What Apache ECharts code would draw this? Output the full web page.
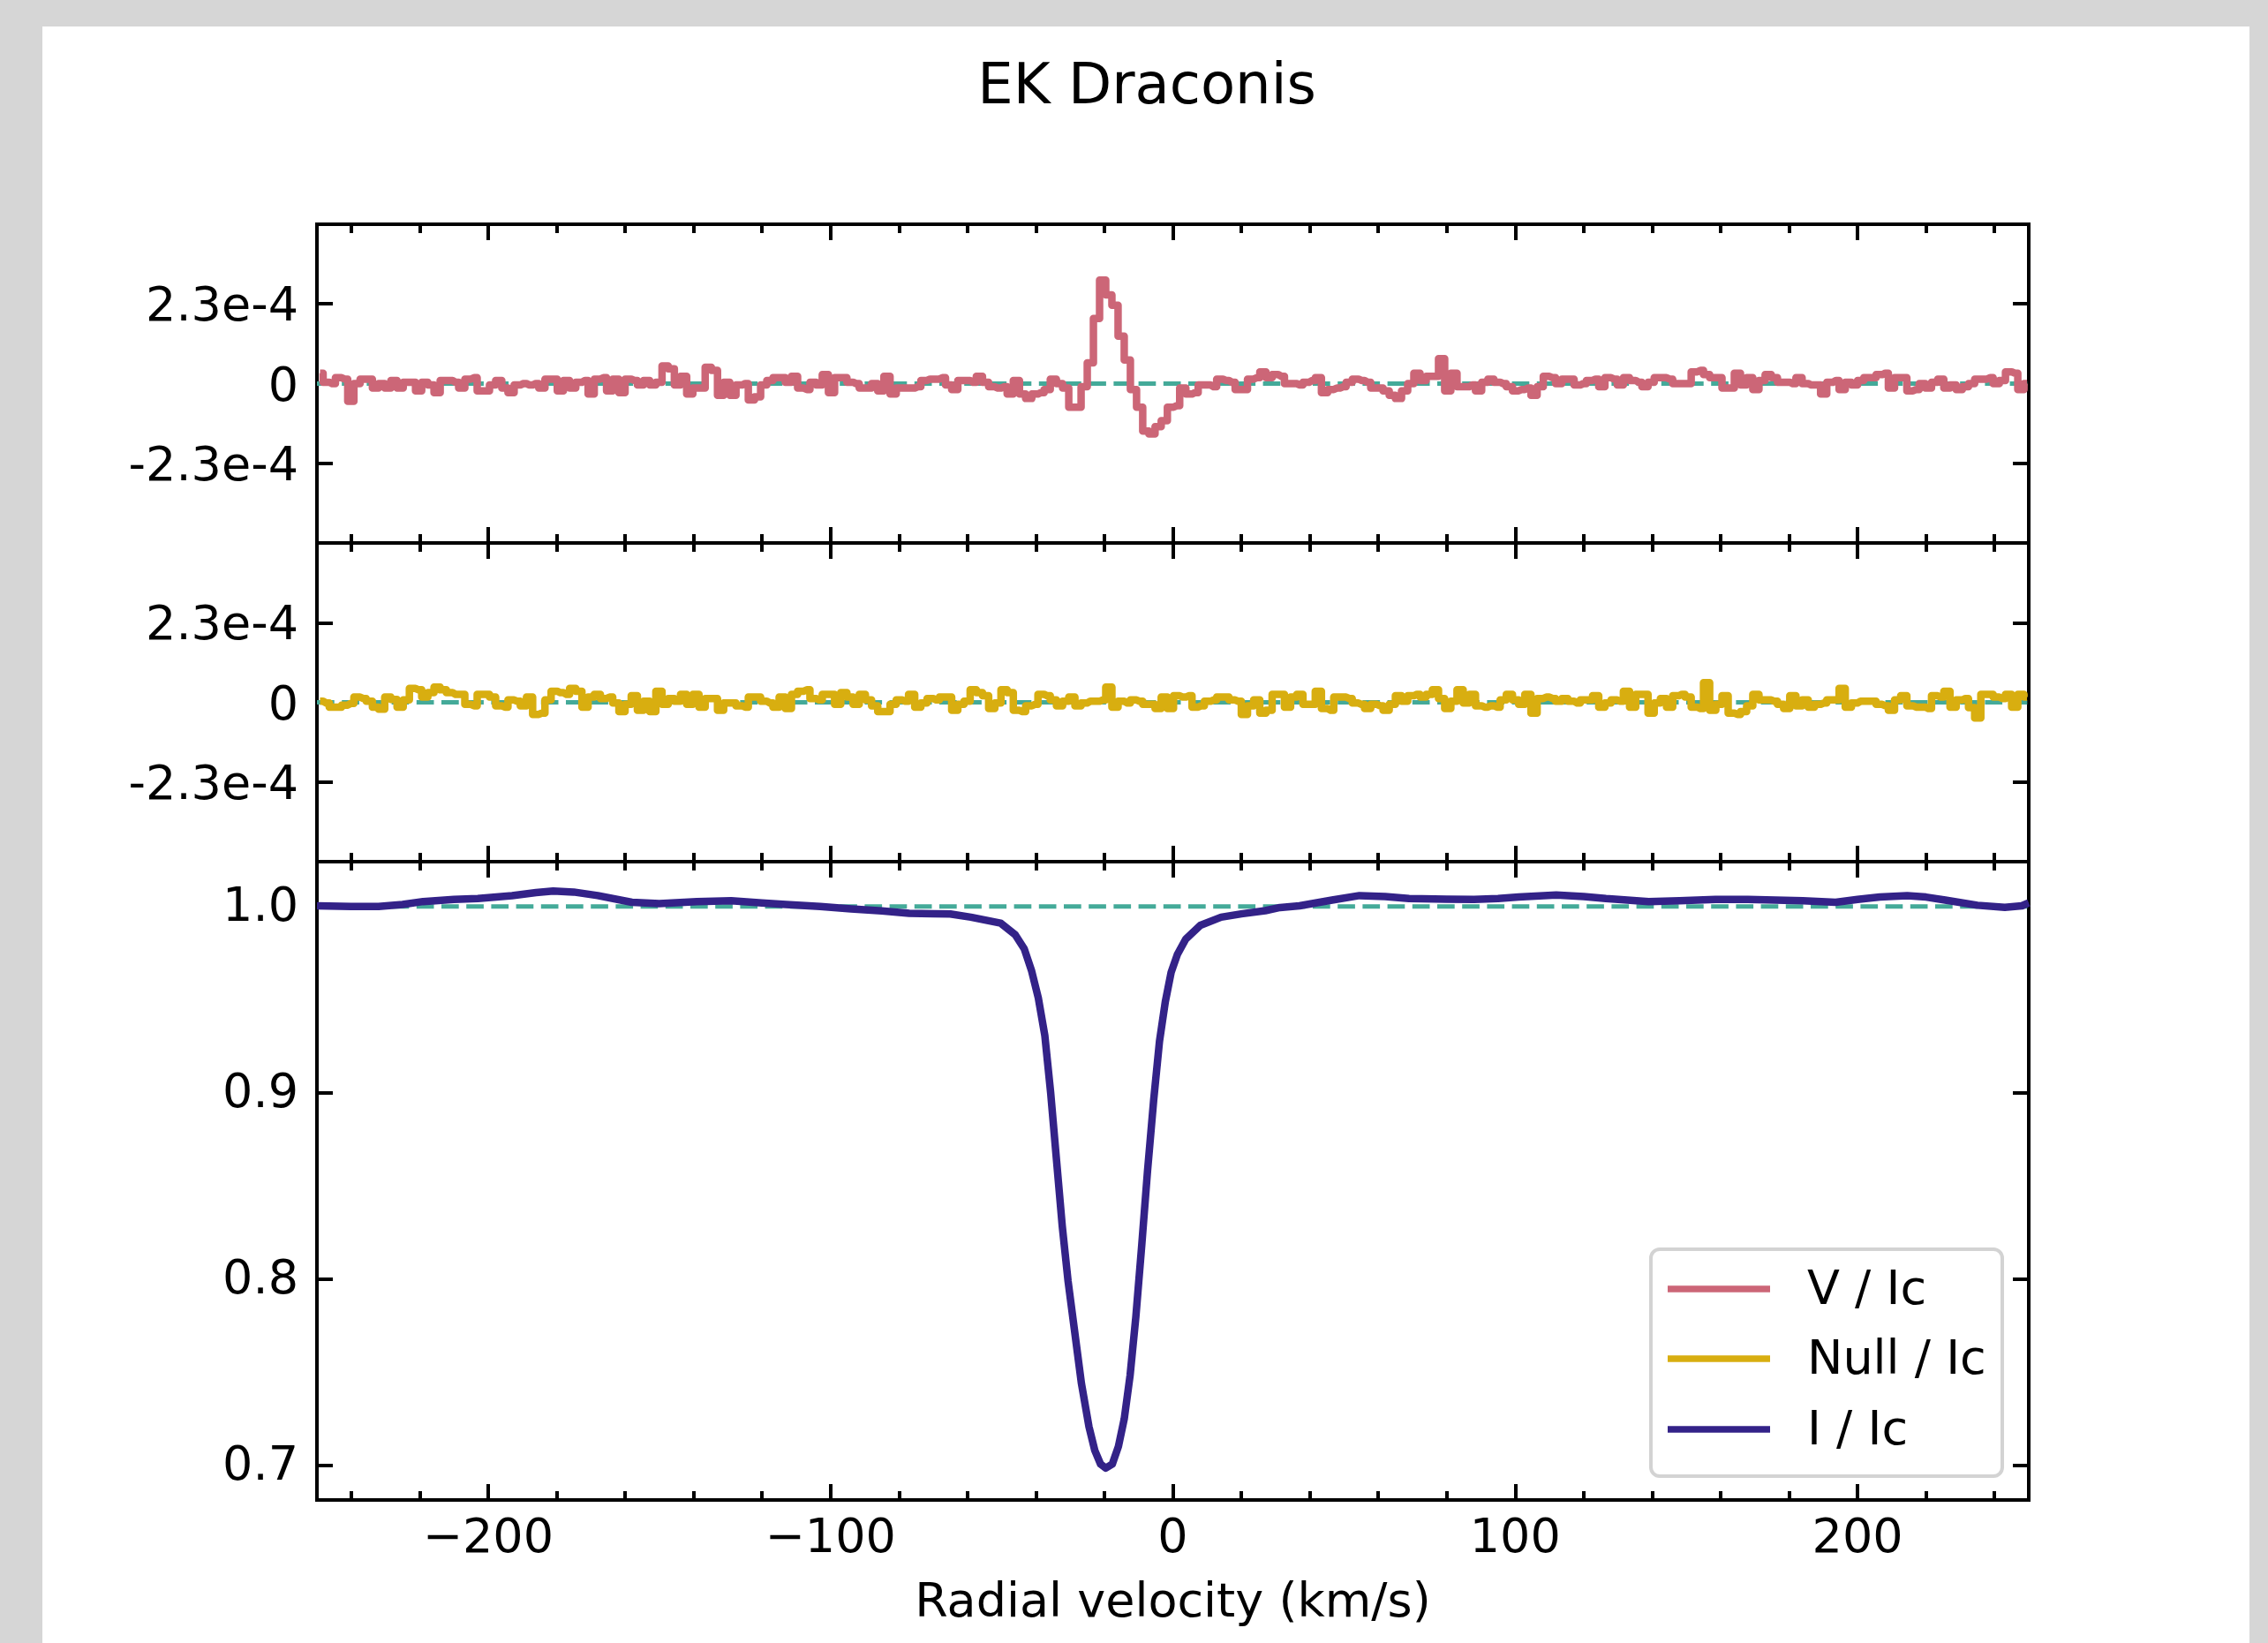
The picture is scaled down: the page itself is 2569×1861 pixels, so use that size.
<!DOCTYPE html>
<html><head><meta charset="utf-8">
<script src="https://cdn.jsdelivr.net/npm/echarts@6/dist/echarts.min.js"></script>
<style>
html,body{margin:0;padding:0;background:#d6d6d6;width:2569px;height:1861px;overflow:hidden}
#chart{position:absolute;left:48px;top:30px;width:2500px;height:1831px;background:#fff}
</style></head><body><div id="chart"></div>
<script>
const titleText = 'EK Draconis';
const xAxisTitle = 'Radial velocity (km/s)';
const seriesNames = ['V / Ic', 'Null / Ic', 'I / Ic'];
const seriesColors = ['#CC6677', '#D8AE10', '#332288'];
const refColor = '#44AA99';

// LSD velocity grid (bin centres)
const velStart = -249.1, velStep = 1.8;

// Stokes V / Ic in units of 1e-5
const stokesV_1e5 = [
 3.0, 0.4, 0, 1.7, 1.3, -5.1, 0, 1.3, 1.3, -1.3,
 0, -1.3, 0.9, -1.3, 0.4, 0.4, -2.1, 0.4, -0.4, -2.6,
 0.9, 0.9, 0.4, -1.3, 1.3, 1.7, -2.1, -2.1, -0.4, 0.9,
 -1.3, -2.6, -0.4, 0, -0.4, 0, -1.3, 1.3, 1.3, -2.1,
 0.9, -1.3, 0.4, 0.9, -3.0, 1.3, 1.7, -2.1, 1.3, -2.6,
 1.3, 0.9, -0.4, 0.9, -0.4, 0.4, 5.1, 4.3, -0.4, 2.1,
 -3.0, -1.3, -1.3, 4.7, 3.8, -3.4, 0.4, -3.4, -0.4, 0,
 -4.7, -3.8, -0.4, 0.9, 1.7, 1.7, 0.4, 2.1, -1.3, -1.7,
 0.4, -0.4, 2.6, -2.6, 1.7, 1.7, 0.4, 0, -1.3, -1.3,
 0, -2.1, 2.1, -3.0, -1.3, -1.3, -1.3, -0.9, 0.9, 1.3,
 1.3, 1.7, -0.4, -1.7, 0.9, 0.9, 0.4, 2.1, 0.4, -0.9,
 -1.3, -0.9, -3.0, 0.9, -3.0, -4.3, -3.0, -2.6, -1.7, 1.3,
 0, -1.3, -6.8, -6.8, -0.9, 6.0, 18.8, 29.9, 25.6, 22.6,
 13.7, 6.8, -1.7, -6.8, -13.7, -14.5, -12.4, -10.7, -6.8, -6.4,
 -1.3, -3.0, -2.6, -0.4, -0.4, -0.9, 1.3, 0.9, 0.4, -1.7,
 -1.7, 1.3, 1.7, 3.4, 1.7, 2.6, 2.1, 0, 0, -0.4,
 0.4, 0.9, 1.7, -2.6, -1.7, -1.3, -0.9, 0.4, 1.3, 0.9,
 0.4, -1.3, -1.3, -2.1, -3.4, -4.3, -2.1, 0, 3.0, 0.9,
 2.1, 2.1, 7.2, -2.1, 3.0, -0.9, -0.9, -0.4, -2.1, 0.4,
 1.3, 0.4, 0, -0.9, -2.1, -1.7, -1.3, -3.4, -0.9, 2.1,
 1.7, 0, 1.3, 1.3, -0.4, 0, 0.9, 1.3, -0.9, 1.7,
 1.3, -0.4, 1.7, 0.9, 0.4, -0.9, 0.4, 1.7, 1.7, 1.3,
 0, 0, 0, 3.4, 3.8, 2.6, 1.7, 1.7, -1.3, -1.3,
 3.0, -0.4, 1.7, -1.7, 0.9, 2.6, 1.7, 0.4, 0.4, 0,
 1.7, 0, -0.4, -0.4, -3.0, 0.4, 0.9, -1.7, 0.4, -0.4,
 0.9, 1.7, 1.7, 2.6, 3.0, -1.3, 1.7, 1.7, -2.1, -1.7,
 0, -1.3, 0.4, 1.3, -1.3, -0.4, -1.7, -0.9, 0, 1.3,
 1.3, 1.7, 0, 0.9, 3.4, 3.0, -1.7, 0
];

// Null / Ic in units of 1e-5
const nullN_1e5 = [
 0.3, -0.2, -1.4, -1.4, -0.8, -0.3, 1.5, 1.1, 0.3, -1.4,
 -2, 1.5, 0.8, -1.4, 0.7, 4, 3.6, 1.5, 2.8, 4.4,
 3.6, 2.8, 2.3, 2.3, -0.6, -1, 2.3, 2.3, 1.5, -1,
 -1.4, 0.7, 0.3, -1, 1.5, -3.5, -3.1, 0.7, 3.2, 2.8,
 2.3, 4, 3.2, -1.4, 1.5, 2.3, 1.1, 1.5, -0.2, -2.7,
 -0.6, 1.9, -2.3, 0.3, -2.7, 3.2, -0.6, 1.1, 0.3, 2.3,
 -0.6, 2.3, -1.4, 1.1, 1.1, -2.3, -0.2, -0.2, -1, -1.4,
 1.5, 1.5, 0.3, -0.2, -1.4, 1.5, -1.8, 2.3, 3.2, 3.6,
 1.1, 0.7, 2.3, 2.3, -0.6, 2.8, 1.5, -0.6, 2.3, 0.7,
 -1, -2.7, -2.7, -0.6, 0.7, 0.3, 2.3, -1.4, -0.2, 1.1,
 0.7, 1.5, 1.5, -2.3, -0.6, 0.3, 3.6, 2.8, 1.9, -1.8,
 -0.2, 3.6, 2.8, -2.3, -2.7, -1, -0.6, 2.3, 1.9, 0.7,
 -1, 0.3, 1.5, -1, -0.2, 0.3, 0.3, 0.7, 4.4, -1.4,
 0.3, -0.2, 0.7, 0.3, -0.6, -0.6, -1.8, 1.5, -1.8, 1.9,
 1.5, 1.9, -1.4, -1, 0.3, 0.7, 1.5, 1.5, 0.7, 0.3,
 -3.5, -1, 0.7, -3.1, -2.3, 2.3, 2.3, -1.4, 1.5, 2.3,
 -0.6, -0.6, 3.2, -1.8, -2.3, 1.5, 1.5, 1.1, -0.2, -0.6,
 -1.8, -0.6, -1, -2.3, -0.6, 1.9, 0.3, 1.9, 2.3, 1.5,
 2.3, 3.6, 1.1, -1.8, 0.3, 3.6, -0.2, 2.3, -1, -1.4,
 -1, -1.4, 0.7, 2.3, 0.7, -0.6, 2.3, -3.1, 1.1, 1.5,
 1.1, 0.3, 1.1, 0.3, -0.2, 0.7, 0.7, 1.9, -1.4, -0.2,
 0.7, 0.3, 3.2, -1.4, 2.3, 2.3, -3.1, -0.2, 1.1, -1.4,
 1.9, 2.3, 1.5, -1.4, -1.8, 5.7, -2.3, -0.6, 1.9, -3.1,
 -3.5, -2.7, -1, 2.3, 0.7, 0.7, 0.3, -0.6, -1.8, 1.9,
 -1, 0.7, -1.4, -0.6, -0.2, 0.7, 0.7, 4, -1.4, -0.2,
 0.3, 0.3, 0.3, -0.6, -1, -2.3, 0.7, 1.9, -1, -1.4,
 -1.4, -1.8, 1.9, 1.5, 3.2, -1.4, 0.7, 1.1, -1.5, -4.5,
 2.3, 2.3, 1.5, 1.1, 2.3, -1.4, 2.3, 1.5
];

// Stokes I / Ic profile (velocity, value)
const iVel = [-250, -240, -232, -225, -219, -210, -203, -193, -186, -181, -175, -168, -158, -150, -139, -129, -120, -113, -103, -94, -85, -77, -70, -65, -59, -50.3, -46, -43.4, -41.3, -39.3, -37.4, -35.7, -34, -32.3, -30.6, -28.8, -26.7, -24.5, -22.8, -21.1, -19.6, -17.7, -15.9, -14.2, -12.5, -10.8, -9.1, -7.4, -5.6, -3.9, -2.2, -0.5, 1.3, 3.8, 8.1, 14.1, 20, 27, 31.3, 37, 46.5, 54.5, 62, 69, 80, 88, 95, 101, 112, 120, 126.5, 139, 148, 158.5, 168, 176, 184, 193.6, 200, 206.5, 214.5, 220, 225.6, 235, 243, 248, 250];
const iVal = [1.0003, 1.0, 1.0, 1.001, 1.0026, 1.0037, 1.0042, 1.0058, 1.0074, 1.0082, 1.0077, 1.0058, 1.0022, 1.0015, 1.0026, 1.003, 1.0019, 1.001, 1.0, 0.9987, 0.9976, 0.9963, 0.996, 0.9959, 0.9942, 0.991, 0.9847, 0.9772, 0.9657, 0.9509, 0.9308, 0.9002, 0.8643, 0.8284, 0.7988, 0.7735, 0.7439, 0.7207, 0.708, 0.7006, 0.6985, 0.7006, 0.7101, 0.7249, 0.7481, 0.7798, 0.8178, 0.8579, 0.896, 0.9276, 0.9488, 0.9646, 0.9741, 0.9825, 0.9899, 0.9942, 0.996, 0.9977, 0.9994, 1.0003, 1.0034, 1.0058, 1.0053, 1.0042, 1.0039, 1.0037, 1.0042, 1.005, 1.0061, 1.0053, 1.0042, 1.0026, 1.003, 1.0037, 1.0037, 1.0034, 1.003, 1.0022, 1.0037, 1.005, 1.0058, 1.005, 1.0034, 1.0006, 0.9995, 1.0003, 1.0019];

// Ticks
const xMajorTicks = [-200, -100, 0, 100, 200];
const xMajorLabels = ['\u2212200', '\u2212100', '0', '100', '200'];
const xMinorTicks = [-240, -220, -180, -160, -140, -120, -80, -60, -40, -20, 20, 40, 60, 80, 120, 140, 160, 180, 220, 240];
const pTicks = [-2.3e-4, 0, 2.3e-4];
const pTickLabels = ['-2.3e-4', '0', '2.3e-4'];
const iTicks = [0.7, 0.8, 0.9, 1.0];
const iTickLabels = ['0.7', '0.8', '0.9', '1.0'];
const zeroLevel = 0, continuumLevel = 1;
const xRange = [-250, 250];
const pRange = [-4.6e-4, 4.6e-4];
const iRange = [0.6814, 1.024];

const FONT = 'DejaVu Sans';
const FS = 54;

function labelFor(ticks, labels, richKey) {
  return function (v) {
    let best = 0, d = Infinity;
    ticks.forEach((t, i) => { const dd = Math.abs(t - v); if (dd < d) { d = dd; best = i; } });
    return richKey ? '{' + richKey + '|' + labels[best] + '}' : labels[best];
  };
}

const gridBoxes = [
  { left: 311, top: 224, width: 1939, height: 361 },
  { left: 311, top: 585, width: 1939, height: 361 },
  { left: 311, top: 946, width: 1939, height: 723 }
];
const grids = gridBoxes.map(g => Object.assign({ show: true, borderColor: '#000', borderWidth: 4, backgroundColor: 'transparent' }, g));

function xAx(g, pos, ticks, len, withLabels) {
  const ax = {
    type: 'value', gridIndex: g, position: pos, min: xRange[0], max: xRange[1],
    axisLine: { show: false, onZero: false }, splitLine: { show: false },
    axisTick: { show: true, inside: true, length: len, customValues: ticks, lineStyle: { color: '#000', width: 4 } },
    axisLabel: { show: false }
  };
  if (withLabels) {
    ax.axisLabel = { show: true, customValues: ticks, margin: 18, formatter: labelFor(xMajorTicks, xMajorLabels),
      fontSize: FS, fontFamily: FONT, color: '#000' };
    ax.name = xAxisTitle; ax.nameLocation = 'middle'; ax.nameGap = 91;
    ax.nameTextStyle = { fontSize: FS, fontFamily: FONT, color: '#000' };
  }
  return ax;
}
const xAxes = [];
for (let g = 0; g < 3; g++) {
  xAxes.push(xAx(g, 'bottom', xMajorTicks, 18, g === 2));
  xAxes.push(xAx(g, 'bottom', xMinorTicks, 10, false));
  xAxes.push(xAx(g, 'top', xMajorTicks, 18, false));
  xAxes.push(xAx(g, 'top', xMinorTicks, 10, false));
}
function yAx(g, pos, range, ticks, labels, withLabels, pad) {
  return {
    type: 'value', gridIndex: g, position: pos, min: range[0], max: range[1],
    axisLine: { show: false, onZero: false }, splitLine: { show: false },
    axisTick: { show: true, inside: true, length: 18, customValues: ticks, lineStyle: { color: '#000', width: 4 } },
    axisLabel: withLabels ? { show: true, customValues: ticks, margin: 21, formatter: labelFor(ticks, labels, 't'),
      fontSize: FS, fontFamily: FONT, color: '#000',
      rich: { t: { fontSize: FS, fontFamily: FONT, color: '#000', padding: [pad, 0, 0, 0] } } } : { show: false }
  };
}
const yAxes = [
  yAx(0, 'left', pRange, pTicks, pTickLabels, true, 10), yAx(0, 'right', pRange, pTicks, pTickLabels, false),
  yAx(1, 'left', pRange, pTicks, pTickLabels, true, 10), yAx(1, 'right', pRange, pTicks, pTickLabels, false),
  yAx(2, 'left', iRange, iTicks, iTickLabels, true, 4), yAx(2, 'right', iRange, iTicks, iTickLabels, false)
];

const vPairs = stokesV_1e5.map((y, i) => [velStart + i * velStep, y * 1e-5]);
const nPairs = nullN_1e5.map((y, i) => [velStart + i * velStep, y * 1e-5]);
const iPairs = iVel.map((v, i) => [v, iVal[i]]);

function refLine(xi, yi, level) {
  return { type: 'line', xAxisIndex: xi, yAxisIndex: yi, data: [[xRange[0], level], [xRange[1], level]],
    showSymbol: false, silent: true, z: 1,
    lineStyle: { color: refColor, width: 5, type: [19.7, 8.5], cap: 'butt' } };
}
const LW = 8.5;
const series = [
  refLine(0, 0, zeroLevel), refLine(4, 2, zeroLevel), refLine(8, 4, continuumLevel),
  { name: seriesNames[0], type: 'line', xAxisIndex: 0, yAxisIndex: 0, data: vPairs, step: 'middle', showSymbol: false, z: 3,
    lineStyle: { color: seriesColors[0], width: LW, join: 'round' } },
  { name: seriesNames[1], type: 'line', xAxisIndex: 4, yAxisIndex: 2, data: nPairs, step: 'middle', showSymbol: false, z: 3,
    lineStyle: { color: seriesColors[1], width: LW, join: 'round' } },
  { name: seriesNames[2], type: 'line', xAxisIndex: 8, yAxisIndex: 4, data: iPairs, showSymbol: false, z: 3,
    lineStyle: { color: seriesColors[2], width: LW, join: 'round' } }
];

const legendBox = { x: 1822, y: 1385, w: 398, h: 257 };
const legendRows = [1430, 1509, 1589];
const graphics = [
  { type: 'text', x: 1251, y: 70, z: 100, style: { text: titleText, font: '64px "DejaVu Sans"', fill: '#000', align: 'center', verticalAlign: 'middle', textAlign: 'center', textVerticalAlign: 'middle' } },
  { type: 'rect', z: 100, shape: { x: legendBox.x, y: legendBox.y, width: legendBox.w, height: legendBox.h, r: 10 },
    style: { fill: 'rgba(255,255,255,0.8)', stroke: '#d3d3d3', lineWidth: 4 } }
];
seriesNames.forEach((nm, i) => {
  graphics.push({ type: 'line', z: 101, shape: { x1: 1841, y1: legendRows[i], x2: 1957, y2: legendRows[i] },
    style: { stroke: seriesColors[i], lineWidth: 7.5 } });
  graphics.push({ type: 'text', z: 101, x: 1999, y: legendRows[i] + 3,
    style: { text: nm, font: FS + 'px "DejaVu Sans"', fill: '#000', align: 'left', verticalAlign: 'middle', textAlign: 'left', textVerticalAlign: 'middle' } });
});

const chart = echarts.init(document.getElementById('chart'), null, { renderer: 'canvas' });
chart.setOption({
  animation: false,
  backgroundColor: '#fff',
  grid: grids,
  xAxis: xAxes,
  yAxis: yAxes,
  series: series,
  graphic: graphics
});
</script></body></html>
